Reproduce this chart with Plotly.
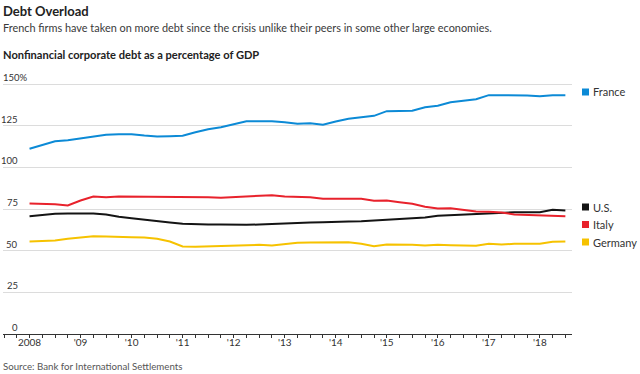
import plotly.graph_objects as go

# Quarterly observations, 2008 Q1 .. 2018 Q3
quarters = [2008 + i / 4 for i in range(43)]

france = [111.1, 113.5, 115.7, 116.3, 117.5, 118.7, 119.5, 119.9, 119.9, 119.1, 118.5, 118.7,
          118.9, 121.1, 122.9, 124.1, 125.9, 127.7, 127.7, 127.7, 127.1, 126.1, 126.5, 125.5,
          127.5, 129.1, 130.1, 130.9, 133.7, 133.9, 133.9, 136.1, 136.9, 139.1, 140.1, 140.9,
          143.3, 143.3, 143.3, 143.1, 142.7, 143.3, 143.3]
italy = [78.3, 78.3, 77.9, 77.1, 80.1, 82.5, 82.1, 82.5, 82.5, 82.5, 82.5, 82.5,
         82.5, 82.5, 82.1, 81.7, 82.1, 82.5, 82.5, 83.3, 82.5, 82.5, 82.1, 81.1,
         81.1, 81.1, 81.1, 79.9, 80.1, 79.1, 78.1, 76.3, 75.3, 75.5, 74.7, 73.5,
         73.3, 72.9, 71.7, 71.5, 71.3, 71.1, 70.7]
us = [70.7, 71.5, 72.1, 72.3, 72.3, 72.3, 71.7, 70.3, 69.5, 68.5, 67.9, 66.9,
      66.1, 65.7, 65.7, 65.7, 65.5, 65.5, 65.7, 66.1, 66.1, 66.7, 66.9, 67.1,
      67.1, 67.5, 67.7, 68.1, 68.5, 68.9, 69.3, 69.9, 70.9, 71.3, 71.9, 71.9,
      72.5, 72.9, 73.1, 73.1, 73.1, 74.5, 74.1]
germany = [55.5, 55.7, 56.1, 57.1, 58.1, 58.7, 58.5, 58.1, 58.1, 57.9, 57.1, 55.5,
           52.5, 52.3, 52.5, 52.7, 52.7, 53.1, 53.5, 53.1, 53.9, 54.7, 54.9, 54.9,
           54.7, 55.1, 54.1, 52.7, 53.7, 53.7, 53.5, 53.1, 53.5, 53.3, 53.3, 52.9,
           54.1, 53.7, 54.1, 54.1, 54.1, 55.3, 55.5]

series_names = ["France", "U.S.", "Italy", "Germany"]
series_values = [france, us, italy, germany]
series_colors = ["#0c8ad6", "#141414", "#e8222c", "#f6c200"]
legend_pixel_y = [92, 207, 224.5, 242]

y_tickvals = [0, 25, 50, 75, 100, 125, 150]
y_ticktext = ["0", "25", "50", "75", "100", "125", "150%"]
year_ticks = list(range(2008, 2019))
year_labels = ["2008", "'09", "'10", "'11", "'12", "'13", "'14", "'15", "'16", "'17", "'18"]

FONT = "Lato, Roboto, sans-serif"
L, R, T, B = 3, 68, 66, 40
W, H = 640, 374
PW, PH = W - L - R, H - T - B
Y_MAX = PH / (250 / 150)

def px(xp):
    return (xp - L) / PW

def py(yp):
    return (H - B - yp) / PH

fig = go.Figure()
for name, vals, col in zip(series_names, series_values, series_colors):
    fig.add_trace(go.Scatter(x=quarters, y=vals, mode="lines", name=name,
                             line=dict(color=col, width=2), showlegend=False,
                             hoverinfo="skip"))

# x ticks every quarter, labels on years
tick_q = [2007.5 + i / 4 for i in range(45)]
tick_t = []
for q in tick_q:
    if abs(q - round(q)) < 1e-9 and int(round(q)) in year_ticks:
        tick_t.append(year_labels[year_ticks.index(int(round(q)))])
    else:
        tick_t.append("")

fig.update_xaxes(range=[2007.48, 2018.63], tickvals=tick_q, ticktext=tick_t,
                 showgrid=False, zeroline=False, showline=True, linecolor="#333",
                 linewidth=1, ticks="outside", ticklen=3, tickcolor="#333",
                 ticklabelstandoff=-4,
                 tickfont=dict(family=FONT, size=10, color="#333"))
fig.update_yaxes(range=[0, Y_MAX], tickvals=y_tickvals, showticklabels=False,
                 showgrid=True, gridcolor="#dcdcdc", gridwidth=1, zeroline=False,
                 ticks="")

annotations = [
    dict(text="<b>Debt Overload</b>", x=px(1), y=py(11), font=dict(family=FONT, size=13, color="#222")),
    dict(text="French firms have taken on more debt since the crisis unlike their peers in some other large economies.",
         x=px(1), y=py(27), font=dict(family=FONT, size=10.9, color="#3a3a3a")),
    dict(text="<b>Nonfinancial corporate debt as a percentage of GDP</b>", x=px(1), y=py(55),
         font=dict(family=FONT, size=11.1, color="#222")),
    dict(text="Source: Bank for International Settlements", x=px(1), y=py(366),
         font=dict(family=FONT, size=9.7, color="#555")),
]
for a in annotations:
    a.update(xref="paper", yref="paper", xanchor="left", yanchor="middle", showarrow=False)

# y-axis labels sit above their gridlines, inside the plot (numbers right-aligned)
for v, t in zip(y_tickvals, y_ticktext):
    if t.endswith("%"):
        ax, anc = px(2), "left"
    else:
        ax, anc = px(19), "right"
    annotations.append(dict(text=t, xref="paper", yref="y", x=ax, y=v, xanchor=anc,
                            yanchor="bottom", showarrow=False, borderpad=0,
                            font=dict(family=FONT, size=9.5, color="#333")))

shapes = []
for name, col, yp in zip(series_names, series_colors, legend_pixel_y):
    shapes.append(dict(type="rect", xref="paper", yref="paper", x0=px(582), x1=px(589),
                       y0=py(yp + 3.5), y1=py(yp - 3.5), fillcolor=col, line=dict(width=0)))
    annotations.append(dict(text=name, xref="paper", yref="paper", x=px(591), y=py(yp),
                            xanchor="left", yanchor="middle", showarrow=False,
                            font=dict(family=FONT, size=11, color="#333")))

fig.update_layout(width=W, height=H, margin=dict(l=L, r=R, t=T, b=B),
                  paper_bgcolor="white", plot_bgcolor="white",
                  annotations=annotations, shapes=shapes)

fig.write_html("out.html", config={"displayModeBar": False},
               post_script="document.body.style.margin='0';document.body.style.padding='0';")
